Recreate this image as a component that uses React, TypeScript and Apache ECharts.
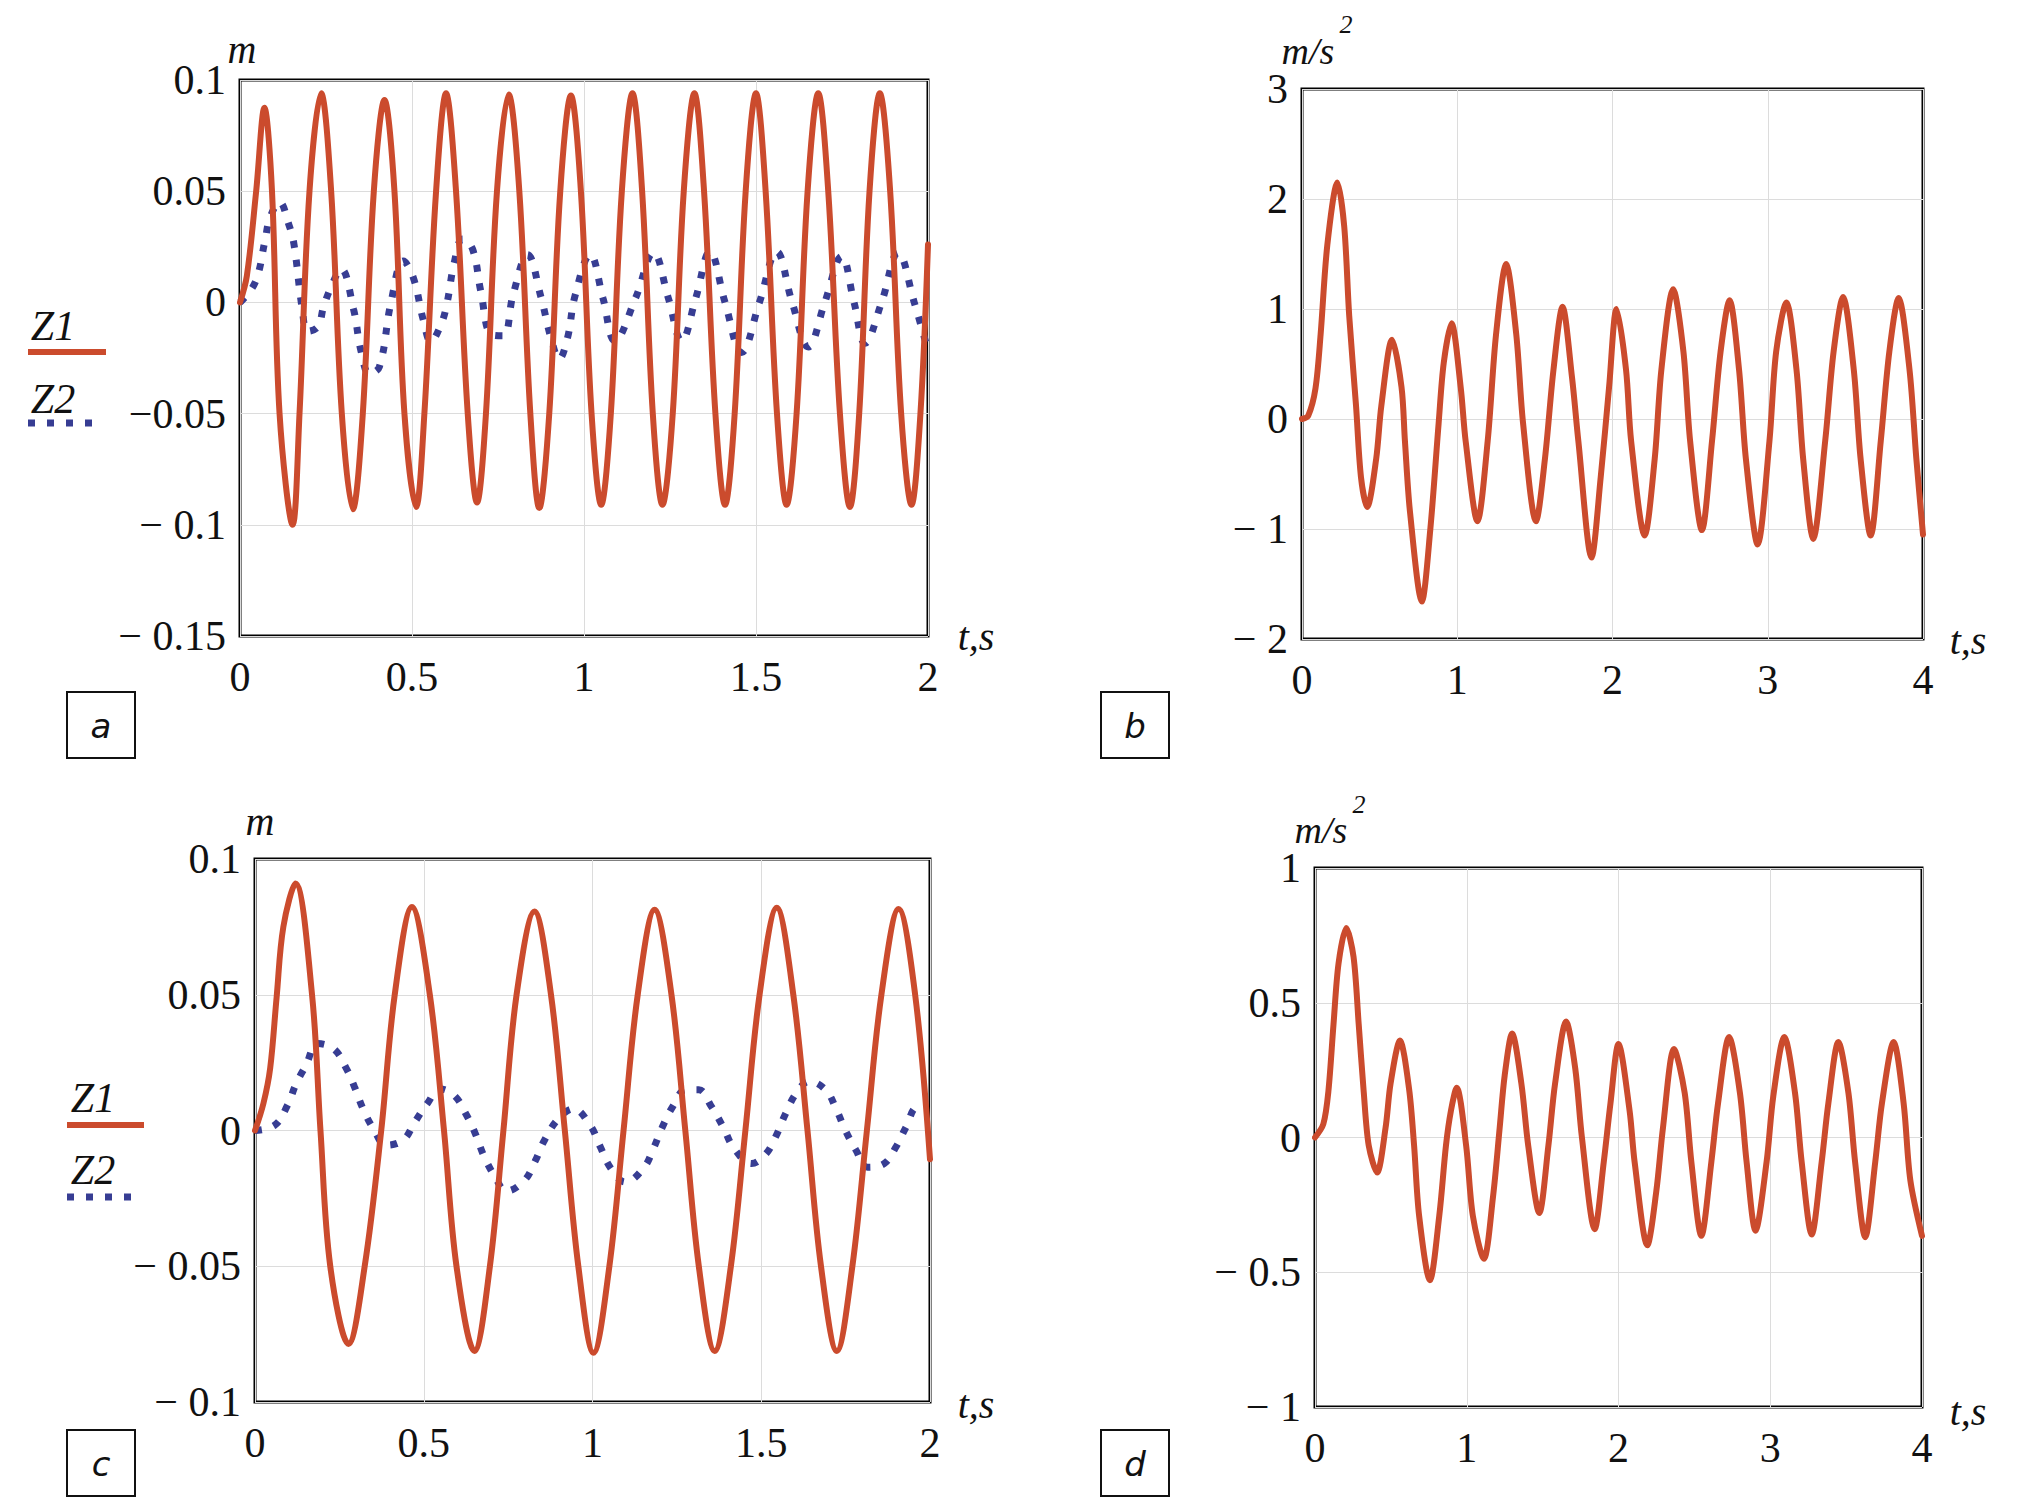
import React, { useEffect, useRef } from "react";
import * as echarts from "echarts";

// ---------- data: [t (s), value] ----------
const aZ1: number[][] = [
  [0, 0], [0.02, 0.012], [0.047, 0.05], [0.071, 0.0875], [0.093, 0.05], [0.115, -0.05], [0.153, -0.1],
  [0.173, -0.05], [0.202, 0.05], [0.236, 0.094], [0.265, 0.05], [0.296, -0.05], [0.328, -0.093],
  [0.357, -0.05], [0.389, 0.05], [0.42, 0.091], [0.449, 0.05], [0.478, -0.05], [0.512, -0.092],
  [0.536, -0.05], [0.57, 0.05], [0.599, 0.094], [0.628, 0.05], [0.662, -0.05], [0.689, -0.09],
  [0.715, -0.05], [0.747, 0.05], [0.781, 0.0935], [0.812, 0.05], [0.844, -0.05], [0.87, -0.0925],
  [0.899, -0.05], [0.931, 0.05], [0.962, 0.093], [0.991, 0.05], [1.022, -0.05], [1.05, -0.091],
  [1.078, -0.05], [1.11, 0.05], [1.141, 0.094], [1.169, 0.05], [1.2, -0.05], [1.228, -0.091],
  [1.258, -0.05], [1.29, 0.05], [1.321, 0.094], [1.349, 0.05], [1.382, -0.05], [1.41, -0.091],
  [1.438, -0.05], [1.47, 0.05], [1.5, 0.094], [1.528, 0.05], [1.561, -0.05], [1.589, -0.091],
  [1.618, -0.05], [1.65, 0.05], [1.681, 0.094], [1.71, 0.05], [1.744, -0.05], [1.773, -0.092],
  [1.8, -0.05], [1.83, 0.05], [1.86, 0.094], [1.89, 0.05], [1.922, -0.05], [1.952, -0.091],
  [1.978, -0.05], [2.0, 0.026],
];
const aZ2: number[][] = [
  [0, 0], [0.044, 0.009], [0.073, 0.028], [0.087, 0.038], [0.115, 0.045], [0.142, 0.035], [0.157, 0.026],
  [0.181, -0.003], [0.197, -0.013], [0.226, -0.011], [0.243, -0.002], [0.265, 0.007], [0.294, 0.015],
  [0.33, -0.003], [0.352, -0.022], [0.376, -0.032], [0.405, -0.029], [0.439, 0], [0.475, 0.0186],
  [0.504, 0.011], [0.533, -0.008], [0.555, -0.0176], [0.584, -0.01], [0.601, -0.001], [0.623, 0.018],
  [0.647, 0.0285], [0.676, 0.024], [0.7, 0.005], [0.731, -0.0145], [0.765, -0.015], [0.794, 0.0036],
  [0.836, 0.0215], [0.875, 0.0023], [0.904, -0.016], [0.928, -0.0254], [0.952, -0.016], [0.974, 0.003],
  [1.018, 0.0215], [1.055, 0.002], [1.09, -0.0173], [1.15, 0.002], [1.202, 0.0223], [1.245, 0.002],
  [1.284, -0.0173], [1.325, 0.002], [1.366, 0.0228], [1.41, 0], [1.458, -0.0225], [1.51, 0],
  [1.56, 0.0228], [1.605, 0], [1.652, -0.02], [1.7, 0], [1.749, 0.0207], [1.785, 0], [1.817, -0.0184],
  [1.865, 0], [1.913, 0.0223], [1.96, 0], [2.0, -0.0217],
];
const bAcc: number[][] = [
  [0, 0], [0.04, 0.03], [0.087, 0.28], [0.12, 0.77], [0.163, 1.58], [0.228, 2.15], [0.272, 1.75],
  [0.304, 0.94], [0.348, 0.12], [0.38, -0.53], [0.42, -0.8], [0.478, -0.36], [0.511, 0.12], [0.58, 0.72],
  [0.641, 0.29], [0.663, -0.2], [0.696, -0.85], [0.772, -1.66], [0.826, -1.01], [0.88, -0.04],
  [0.913, 0.51], [0.963, 0.87], [1.022, 0.29], [1.054, -0.2], [1.13, -0.93], [1.196, -0.2], [1.25, 0.77],
  [1.315, 1.41], [1.38, 0.77], [1.424, -0.04], [1.507, -0.93], [1.565, -0.36], [1.62, 0.45],
  [1.678, 1.02], [1.739, 0.38], [1.78, -0.2], [1.865, -1.26], [1.924, -0.53], [1.978, 0.29],
  [2.026, 1.0], [2.087, 0.45], [2.12, -0.2], [2.207, -1.06], [2.272, -0.36], [2.315, 0.45],
  [2.391, 1.18], [2.457, 0.61], [2.5, -0.2], [2.576, -1.01], [2.641, -0.2], [2.696, 0.61],
  [2.754, 1.08], [2.815, 0.45], [2.859, -0.36], [2.935, -1.14], [3.011, -0.2], [3.054, 0.61],
  [3.12, 1.06], [3.185, 0.45], [3.228, -0.36], [3.293, -1.09], [3.37, -0.2], [3.424, 0.61],
  [3.485, 1.11], [3.554, 0.45], [3.598, -0.36], [3.663, -1.06], [3.728, -0.2], [3.783, 0.61],
  [3.843, 1.1], [3.913, 0.45], [3.957, -0.36], [4.0, -1.05],
];
const cZ1: number[][] = [
  [0, 0], [0.025, 0.01], [0.045, 0.023], [0.064, 0.049], [0.084, 0.075], [0.12, 0.091], [0.169, 0.05],
  [0.194, 0], [0.223, -0.05], [0.277, -0.0786], [0.325, -0.05], [0.374, 0], [0.414, 0.05],
  [0.465, 0.0823], [0.518, 0.05], [0.56, 0], [0.597, -0.05], [0.65, -0.0812], [0.696, -0.05],
  [0.736, 0], [0.775, 0.05], [0.828, 0.0807], [0.877, 0.05], [0.918, 0], [0.958, -0.05],
  [1.003, -0.0819], [1.05, -0.05], [1.092, 0], [1.134, 0.05], [1.184, 0.0813], [1.234, 0.05],
  [1.275, 0], [1.315, -0.05], [1.362, -0.0812], [1.41, -0.05], [1.453, 0], [1.495, 0.05],
  [1.546, 0.082], [1.595, 0.05], [1.637, 0], [1.677, -0.05], [1.724, -0.0812], [1.77, -0.05],
  [1.813, 0], [1.856, 0.05], [1.907, 0.0816], [1.956, 0.05], [2.0, -0.0106],
];
const cZ2: number[][] = [
  [0, 0], [0.059, 0.002], [0.097, 0.0095], [0.121, 0.017], [0.151, 0.024], [0.186, 0.032],
  [0.234, 0.03], [0.27, 0.023], [0.295, 0.016], [0.32, 0.008], [0.352, 0.0004], [0.389, -0.0054],
  [0.439, -0.0035], [0.473, 0.003], [0.511, 0.01], [0.548, 0.0153], [0.592, 0.0127], [0.627, 0.0056],
  [0.653, -0.0012], [0.678, -0.0093], [0.711, -0.017], [0.745, -0.0223], [0.798, -0.0184],
  [0.83, -0.0113], [0.858, -0.0035], [0.899, 0.0043], [0.943, 0.008], [0.994, 0.0017], [1.023, -0.006],
  [1.054, -0.0139], [1.097, -0.019], [1.151, -0.0139], [1.181, -0.0065], [1.206, 0.001],
  [1.239, 0.0091], [1.275, 0.0149], [1.315, 0.015], [1.351, 0.0091], [1.387, 0.0013],
  [1.419, -0.0065], [1.471, -0.0122], [1.513, -0.0087], [1.543, -0.0022], [1.572, 0.0062],
  [1.605, 0.014], [1.642, 0.0181], [1.691, 0.0149], [1.721, 0.0082], [1.748, 0.0004],
  [1.78, -0.0071], [1.815, -0.0135], [1.864, -0.0122], [1.899, -0.0061], [1.929, 0.0013],
  [1.961, 0.0085], [1.975, 0.008],
];
const dAcc: number[][] = [
  [0, 0], [0.055, 0.05], [0.088, 0.17], [0.122, 0.42], [0.155, 0.645], [0.206, 0.777], [0.254, 0.67],
  [0.288, 0.42], [0.321, 0.17], [0.354, -0.03], [0.409, -0.13], [0.465, 0.036], [0.498, 0.2],
  [0.56, 0.36], [0.62, 0.18], [0.653, -0.03], [0.686, -0.29], [0.757, -0.53], [0.819, -0.29],
  [0.863, -0.03], [0.896, 0.1], [0.934, 0.185], [0.996, -0.03], [1.04, -0.29], [1.113, -0.45],
  [1.173, -0.22], [1.217, 0.036], [1.25, 0.23], [1.299, 0.386], [1.36, 0.2], [1.405, -0.03],
  [1.478, -0.28], [1.538, -0.03], [1.582, 0.2], [1.655, 0.43], [1.715, 0.256], [1.759, 0],
  [1.843, -0.34], [1.903, -0.09], [1.947, 0.127], [2.0, 0.347], [2.073, 0.1], [2.106, -0.09],
  [2.19, -0.4], [2.249, -0.2], [2.293, 0.036], [2.366, 0.328], [2.436, 0.166], [2.48, -0.09],
  [2.546, -0.365], [2.612, -0.09], [2.656, 0.127], [2.729, 0.373], [2.8, 0.166], [2.844, -0.09],
  [2.903, -0.346], [2.976, -0.09], [3.02, 0.153], [3.093, 0.373], [3.163, 0.166], [3.207, -0.09],
  [3.273, -0.36], [3.339, -0.09], [3.383, 0.127], [3.449, 0.354], [3.515, 0.166], [3.559, -0.09],
  [3.626, -0.37], [3.692, -0.09], [3.736, 0.127], [3.813, 0.354], [3.879, 0.127], [3.923, -0.158],
  [4.0, -0.365],
];

// ---------- tick labels ----------
const xTicksShort = ["0", "0.5", "1", "1.5", "2"];
const xTicksLong = ["0", "1", "2", "3", "4"];
const aYTicks = ["\u2212 0.15", "\u2212 0.1", "\u22120.05", "0", "0.05", "0.1"];
const bYTicks = ["\u2212 2", "\u2212 1", "0", "1", "2", "3"];
const cYTicks = ["\u2212 0.1", "\u2212 0.05", "0", "0.05", "0.1"];
const dYTicks = ["\u2212 1", "\u2212 0.5", "0", "0.5", "1"];

const RED = "#cb4b2d";
const BLUE = "#373d93";
const SERIF = "Liberation Serif";

function labelFn(labels: string[], min: number, interval: number) {
  return (v: number) => {
    const i = Math.round((v - min) / interval);
    return labels[i] ?? "";
  };
}

export default function App() {
  const ref = useRef<HTMLDivElement>(null);
  useEffect(() => {
    if (!ref.current) return;
    const chart = echarts.init(ref.current, undefined, { renderer: "svg" });

    const grids = [
      { left: 240, top: 80, width: 688, height: 556 },
      { left: 1302, top: 89, width: 621, height: 550 },
      { left: 255, top: 859, width: 675, height: 543 },
      { left: 1315, top: 868, width: 607, height: 539 },
    ].map((g) => ({ ...g, show: true, borderColor: "#000", borderWidth: 3, backgroundColor: "transparent" }));

    const axisLabelX = (labels: string[], interval: number) => ({
      show: true,
      margin: 20,
      color: "#111",
      fontFamily: SERIF,
      fontSize: 42,
      formatter: labelFn(labels, 0, interval),
    });
    const axisLabelY = (labels: string[], min: number, interval: number) => ({
      show: true,
      margin: 14,
      color: "#111",
      fontFamily: SERIF,
      fontSize: 42,
      padding: [10, 0, 0, 0],
      formatter: labelFn(labels, min, interval),
    });
    const common = {
      type: "value" as const,
      axisLine: { show: false },
      axisTick: { show: false },
      splitLine: { show: true, lineStyle: { color: "#dcdcdc", width: 1 } },
    };

    const xAxis = [
      { ...common, gridIndex: 0, min: 0, max: 2, interval: 0.5, axisLabel: axisLabelX(xTicksShort, 0.5) },
      { ...common, gridIndex: 1, min: 0, max: 4, interval: 1, axisLabel: axisLabelX(xTicksLong, 1) },
      { ...common, gridIndex: 2, min: 0, max: 2, interval: 0.5, axisLabel: axisLabelX(xTicksShort, 0.5) },
      { ...common, gridIndex: 3, min: 0, max: 4, interval: 1, axisLabel: axisLabelX(xTicksLong, 1) },
    ];
    const yAxis = [
      { ...common, gridIndex: 0, min: -0.15, max: 0.1, interval: 0.05, axisLabel: axisLabelY(aYTicks, -0.15, 0.05) },
      { ...common, gridIndex: 1, min: -2, max: 3, interval: 1, axisLabel: axisLabelY(bYTicks, -2, 1) },
      { ...common, gridIndex: 2, min: -0.1, max: 0.1, interval: 0.05, axisLabel: axisLabelY(cYTicks, -0.1, 0.05) },
      { ...common, gridIndex: 3, min: -1, max: 1, interval: 0.5, axisLabel: axisLabelY(dYTicks, -1, 0.5) },
    ];

    const solid = (name: string, data: number[][], idx: number, smooth: number) => ({
      name,
      type: "line" as const,
      xAxisIndex: idx,
      yAxisIndex: idx,
      data,
      showSymbol: false,
      smooth,
      lineStyle: { color: RED, width: 6, cap: "round", join: "round" },
      z: 3,
    });
    const dotted = (name: string, data: number[][], idx: number) => ({
      name,
      type: "line" as const,
      xAxisIndex: idx,
      yAxisIndex: idx,
      data,
      showSymbol: false,
      smooth: 0.4,
      lineStyle: { color: BLUE, width: 7, type: [7, 12], cap: "butt" },
      z: 2,
    });

    const txt = (text: string, x: number, y: number, font: string, align = "center") => ({
      type: "text",
      x,
      y,
      style: { text, font, fill: "#111", align, verticalAlign: "middle" },
    });
    const box = (letter: string, x: number, y: number) => ({
      type: "group",
      children: [
        { type: "rect", shape: { x, y, width: 68, height: 66 }, style: { fill: "#fff", stroke: "#111", lineWidth: 2 } },
        txt(letter, x + 34, y + 34, "italic 500 34px DejaVu Sans"),
      ],
    });
    const axisFont = `italic 40px ${SERIF}`;
    const unitFont = `italic 38px ${SERIF}`;
    const legFont = `italic 42px ${SERIF}`;

    const graphic = [
      // axis names
      txt("m", 242, 49, axisFont),
      txt("t,s", 976, 636, axisFont),
      txt("m/s", 1308, 51, unitFont),
      txt("2", 1346, 24, `italic 26px ${SERIF}`),
      txt("t,s", 1968, 640, axisFont),
      txt("m", 260, 821, axisFont),
      txt("t,s", 976, 1404, axisFont),
      txt("m/s", 1321, 830, unitFont),
      txt("2", 1359, 804, `italic 26px ${SERIF}`),
      txt("t,s", 1968, 1411, axisFont),
      // legend a
      txt("Z1", 53, 326, legFont),
      { type: "line", shape: { x1: 28, y1: 352, x2: 106, y2: 352 }, style: { stroke: RED, lineWidth: 6 } },
      txt("Z2", 53, 399, legFont),
      { type: "line", shape: { x1: 28, y1: 423, x2: 102, y2: 423 }, style: { stroke: BLUE, lineWidth: 7, lineDash: [7, 12] } },
      // legend c
      txt("Z1", 93, 1098, legFont),
      { type: "line", shape: { x1: 67, y1: 1125, x2: 144, y2: 1125 }, style: { stroke: RED, lineWidth: 6 } },
      txt("Z2", 93, 1170, legFont),
      { type: "line", shape: { x1: 67, y1: 1197, x2: 139, y2: 1197 }, style: { stroke: BLUE, lineWidth: 7, lineDash: [7, 12] } },
      // panel letters
      box("a", 67, 692),
      box("b", 1101, 692),
      box("c", 67, 1430),
      box("d", 1101, 1430),
    ];

    chart.setOption({
      animation: false,
      backgroundColor: "#fff",
      grid: grids,
      xAxis,
      yAxis,
      series: [
        dotted("Z2", aZ2, 0),
        solid("Z1", aZ1, 0, 0.35),
        solid("acc b", bAcc, 1, 0.3),
        dotted("Z2", cZ2, 2),
        solid("Z1", cZ1, 2, 0.35),
        solid("acc d", dAcc, 3, 0.3),
      ],
      graphic,
    });
    return () => chart.dispose();
  }, []);
  return <div ref={ref} style={{ position: "absolute", left: 0, top: 0, width: 2020, height: 1498 }} />;
}
